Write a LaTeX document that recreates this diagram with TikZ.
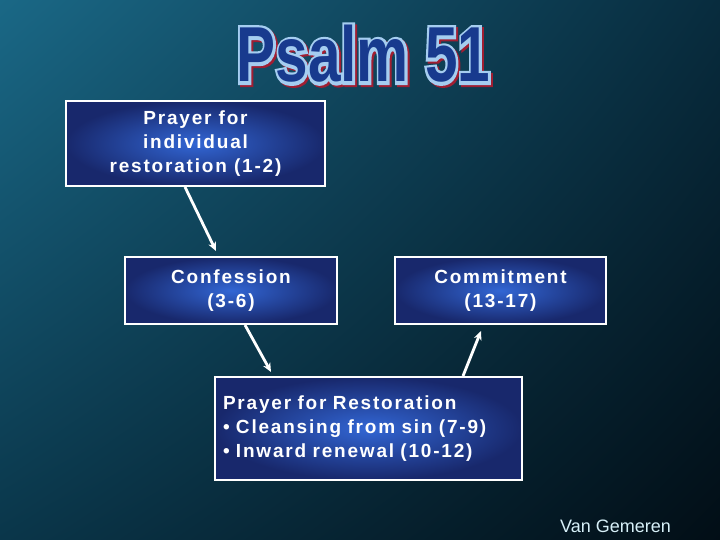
\documentclass[tikz,border=0pt]{standalone}
\usepackage{fontspec}
\setmainfont{Liberation Sans}
\usetikzlibrary{arrows.meta,shadings}

\definecolor{bgUL}{RGB}{26,104,134}
\definecolor{bgUR}{RGB}{8,44,62}
\definecolor{bgLL}{RGB}{10,54,74}
\definecolor{bgLR}{RGB}{2,14,22}
\definecolor{boxin}{RGB}{50,102,212}
\definecolor{boxout}{RGB}{24,40,108}
\definecolor{ttlfill}{RGB}{24,58,142}
\definecolor{ttlline}{RGB}{165,205,240}
\definecolor{ttlshadow}{RGB}{160,30,50}
\definecolor{creditcol}{RGB}{215,240,248}

\newcommand{\psalmtitle}{\fontsize{78}{78}\selectfont\bfseries\scalebox{0.75}[1]{Psalm 51}}
\newcommand{\psalmfat}{\fontsize{78}{78}\selectfont\bfseries\addfontfeature{FakeBold=8}\scalebox{0.75}[1]{Psalm 51}}
\newcommand{\boxfont}{\fontsize{19}{24}\selectfont\bfseries\addfontfeature{LetterSpace=9.5}}

\tikzset{
  stagebox/.style={draw=white, line width=2pt, shading=radial, inner color=boxin,
    outer color=boxout, text=white, font=\boxfont, align=center, inner sep=0pt},
  flowarrow/.style={draw=white, line width=2.8pt, -{Stealth[length=9pt,width=8pt]}}
}

\begin{document}
\begin{tikzpicture}[x=1pt,y=-1pt]
  \useasboundingbox (0,0) rectangle (720,540);
  \shade[upper left=bgUL, upper right=bgUR, lower left=bgLL, lower right=bgLR]
    (0,0) rectangle (720,540);

  % title: shadow, outline, fill
  \node[text=ttlshadow, anchor=base] (titleshadow) at (365.5,84) {\psalmfat};
  \node[text=ttlline, anchor=base] (titleline) at (363.5,82) {\psalmfat};
  \node[text=ttlfill, anchor=base] (title) at (363.5,82) {\psalmtitle};

  % the four stages
  \node[stagebox, minimum width=259, minimum height=85] (indiv) at (195.5,143.5)
    {Prayer for\\individual\\restoration (1-2)};
  \node[stagebox, minimum width=212, minimum height=67] (confess) at (231,290.5)
    {Confession\\(3-6)};
  \node[stagebox, minimum width=211, minimum height=67] (commit) at (500.5,290.5)
    {Commitment\\(13-17)};
  \node[stagebox, minimum width=307, minimum height=103, text width=291, align=left]
    (restore) at (368.5,428.5)
    {Prayer for Restoration\\\textbullet\ Cleansing from sin (7-9)\\\textbullet\ Inward renewal (10-12)};

  % arrows
  \coordinate (tip1) at (216,251);
  \coordinate (tip2) at (271,372);
  \coordinate (tip3) at (481,331);
  \draw[flowarrow] ([xshift=-10.5]indiv.south) -- (tip1);
  \draw[flowarrow] ([xshift=14]confess.south) -- (tip2);
  \draw[flowarrow] ([xshift=94.5]restore.north) -- (tip3);

  \node[text=creditcol, font=\fontsize{18}{20}\selectfont, anchor=base east, inner sep=0pt]
    (credit) at (671,532) {Van Gemeren};
\end{tikzpicture}
\end{document}
